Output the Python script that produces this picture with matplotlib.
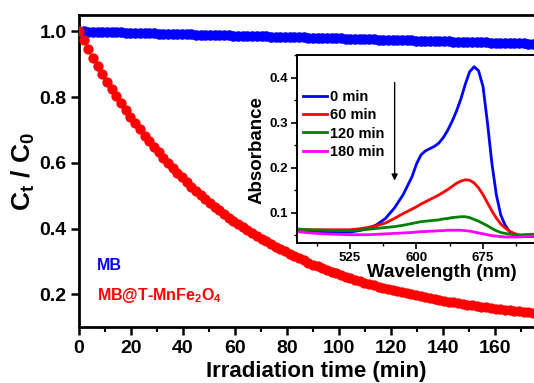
import numpy as np
import matplotlib
matplotlib.use("Agg")
import matplotlib.pyplot as plt
from matplotlib.ticker import MultipleLocator, FixedLocator

plt.rcParams['font.family'] = ['Liberation Sans', 'DejaVu Sans']
plt.rcParams['font.weight'] = 'bold'
plt.rcParams['axes.labelweight'] = 'bold'
plt.rcParams['mathtext.fontset'] = 'custom'
plt.rcParams['mathtext.rm'] = 'Liberation Sans:bold'
plt.rcParams['mathtext.bf'] = 'Liberation Sans:bold'
plt.rcParams['mathtext.it'] = 'Liberation Sans:bold'

# ---------------- main data ----------------
time_min = np.round(np.arange(100) * 1.8, 1)

mb_alone = [1.000, 1.000, 0.999, 0.999, 0.998, 0.998, 0.998, 0.997, 0.997, 0.997,
            0.996, 0.996, 0.995, 0.995, 0.995, 0.994, 0.994, 0.993, 0.993, 0.993,
            0.992, 0.992, 0.992, 0.991, 0.991, 0.990, 0.990, 0.990, 0.989, 0.989,
            0.989, 0.988, 0.988, 0.987, 0.987, 0.987, 0.986, 0.986, 0.985, 0.985,
            0.985, 0.984, 0.984, 0.984, 0.983, 0.983, 0.982, 0.982, 0.982, 0.981,
            0.981, 0.980, 0.980, 0.980, 0.979, 0.979, 0.979, 0.978, 0.978, 0.977,
            0.977, 0.977, 0.976, 0.976, 0.975, 0.975, 0.975, 0.974, 0.974, 0.974,
            0.973, 0.973, 0.972, 0.972, 0.972, 0.971, 0.971, 0.971, 0.970, 0.970,
            0.969, 0.969, 0.969, 0.968, 0.968, 0.967, 0.967, 0.967, 0.966, 0.966,
            0.966, 0.965, 0.965, 0.964, 0.964, 0.964, 0.963, 0.963, 0.962, 0.962]

mb_catalyst = [1.000, 0.973, 0.946, 0.920, 0.895, 0.871, 0.847, 0.825, 0.803, 0.781,
               0.760, 0.740, 0.721, 0.702, 0.683, 0.666, 0.648, 0.632, 0.616, 0.600,
               0.585, 0.570, 0.556, 0.542, 0.528, 0.515, 0.502, 0.490, 0.478, 0.467,
               0.456, 0.445, 0.434, 0.424, 0.414, 0.405, 0.395, 0.386, 0.378, 0.369,
               0.361, 0.353, 0.345, 0.338, 0.331, 0.324, 0.317, 0.310, 0.304, 0.297,
               0.291, 0.286, 0.280, 0.274, 0.269, 0.264, 0.259, 0.254, 0.249, 0.245,
               0.240, 0.236, 0.232, 0.228, 0.224, 0.220, 0.217, 0.213, 0.210, 0.206,
               0.203, 0.200, 0.197, 0.194, 0.191, 0.188, 0.186, 0.183, 0.180, 0.178,
               0.176, 0.173, 0.171, 0.169, 0.167, 0.165, 0.163, 0.161, 0.159, 0.157,
               0.156, 0.154, 0.152, 0.151, 0.149, 0.148, 0.146, 0.145, 0.143, 0.142]

x_ticks = [0, 20, 40, 60, 80, 100, 120, 140, 160]

# ---------------- inset data ----------------
wavelength = [465, 480, 495, 510, 525, 535, 545, 555, 565, 575, 585, 595, 600, 605,
              610, 615, 620, 625, 630, 635, 640, 645, 650, 655, 660, 665, 670, 675,
              680, 685, 690, 695, 700, 705, 710, 715, 720, 730, 740, 750]

abs_0 = [0.062, 0.059, 0.057, 0.056, 0.057, 0.060, 0.065, 0.073, 0.087, 0.110, 0.140,
         0.180, 0.208, 0.228, 0.237, 0.242, 0.247, 0.254, 0.266, 0.282, 0.302, 0.325,
         0.352, 0.385, 0.413, 0.424, 0.415, 0.380, 0.300, 0.210, 0.140, 0.095, 0.072,
         0.058, 0.051, 0.048, 0.047, 0.047, 0.049, 0.050]
abs_60 = [0.062, 0.062, 0.062, 0.062, 0.062, 0.064, 0.067, 0.071, 0.077, 0.087, 0.098,
          0.108, 0.113, 0.119, 0.124, 0.129, 0.134, 0.139, 0.145, 0.151, 0.158, 0.165,
          0.170, 0.173, 0.172, 0.166, 0.155, 0.140, 0.122, 0.104, 0.088, 0.075, 0.066,
          0.059, 0.054, 0.051, 0.049, 0.048, 0.049, 0.050]
abs_120 = [0.064, 0.062, 0.061, 0.060, 0.060, 0.061, 0.063, 0.065, 0.067, 0.069, 0.072,
           0.076, 0.078, 0.080, 0.081, 0.082, 0.083, 0.084, 0.086, 0.087, 0.089, 0.090,
           0.091, 0.091, 0.089, 0.085, 0.081, 0.076, 0.071, 0.065, 0.060, 0.056, 0.054,
           0.052, 0.051, 0.050, 0.051, 0.052, 0.053, 0.053]
abs_180 = [0.058, 0.055, 0.053, 0.052, 0.051, 0.051, 0.051, 0.052, 0.053, 0.054, 0.055,
           0.056, 0.057, 0.058, 0.058, 0.059, 0.059, 0.060, 0.060, 0.061, 0.061, 0.061,
           0.061, 0.060, 0.059, 0.057, 0.055, 0.053, 0.051, 0.049, 0.048, 0.047, 0.046,
           0.046, 0.046, 0.046, 0.047, 0.048, 0.049, 0.050]

series_labels = ['0 min', '60 min', '120 min', '180 min']
series_colors = ['#0000ff', '#ff0000', '#008000', '#ff00ff']

W, H = 534, 383
fig = plt.figure(figsize=(W / 100, H / 100), dpi=100)

# main axes (extends past the right edge like the cropped original)
ax = fig.add_axes([79 / W, (H - 327.3) / H, 468 / W, 312.3 / H])
ax.plot(time_min, mb_alone, 'o', color='#0000ff', ms=7.6, mec='#0000ff', mew=0, zorder=3)
ax.plot(time_min, mb_catalyst, 'o', color='#ff0000', ms=7.4, mec='#ff0000', mew=0, zorder=4)
ax.set_xlim(0, 180)
ax.set_ylim(0.1, 1.05)
ax.xaxis.set_major_locator(FixedLocator(x_ticks))
ax.xaxis.set_minor_locator(FixedLocator(list(range(10, 180, 20))))
ax.set_yticks([0.2, 0.4, 0.6, 0.8, 1.0])
ax.tick_params(axis='both', which='major', direction='out', length=6, width=1.8,
               labelsize=14, pad=3)
ax.tick_params(axis='both', which='minor', direction='out', length=3.5, width=1.5)
for s in ax.spines.values():
    s.set_linewidth(2)
ax.set_xlabel('Irradiation time (min)', fontsize=16)
ax.xaxis.set_label_coords(0.508, -0.142)
ax.xaxis.label.set_va('center')
ax.set_ylabel(r'C$_\mathregular{t}$ / C$_\mathregular{0}$', fontsize=19)
ax.yaxis.set_label_coords(-0.118, 0.5)
ax.yaxis.label.set_va('center')
ax.text(6.9, 0.289, 'MB', color='#0000ff', fontsize=11.5, va='center', ha='left')
ax.text(6.9, 0.197, r'MB@T-MnFe$_\mathbf{2}$O$_\mathbf{4}$', color='#ff0000',
        fontsize=11.5, va='center', ha='left')

# inset
ax_in = fig.add_axes([296.7 / W, (H - 243.3) / H, 248.4 / W, 188.3 / H])
for y, lab, col in zip([abs_0, abs_60, abs_120, abs_180], series_labels, series_colors):
    ax_in.plot(wavelength, y, color=col, lw=2, label=lab)
ax_in.set_xlim(465, 745)
ax_in.set_ylim(0.032, 0.45)
ax_in.set_xticks([525, 600, 675])
ax_in.xaxis.set_minor_locator(MultipleLocator(37.5))
ax_in.set_yticks([0.1, 0.2, 0.3, 0.4])
ax_in.yaxis.set_minor_locator(MultipleLocator(0.05))
ax_in.tick_params(axis='both', which='major', direction='out', length=4, width=1.2,
                  labelsize=9.5, pad=2)
ax_in.tick_params(axis='both', which='minor', direction='out', length=2.5, width=1)
for s in ax_in.spines.values():
    s.set_linewidth(1.4)
ax_in.set_xlabel('Wavelength (nm)', fontsize=13.5)
ax_in.xaxis.set_label_coords(0.585, -0.155)
ax_in.xaxis.label.set_va('center')
ax_in.set_ylabel('Absorbance', fontsize=13.5)
ax_in.yaxis.set_label_coords(-0.16, 0.495)
ax_in.yaxis.label.set_va('center')
ax_in.annotate('', xy=(575.4, 0.165), xytext=(575.4, 0.395),
               arrowprops=dict(arrowstyle='-|>', color='k', lw=1, mutation_scale=9))
ax_in.legend(loc='upper left', bbox_to_anchor=(0.024, 0.815), frameon=False,
             fontsize=10.5, handlelength=1.65, handletextpad=0.25, labelspacing=0.3,
             borderpad=0, borderaxespad=0)

fig.savefig('out.png', dpi=100)
